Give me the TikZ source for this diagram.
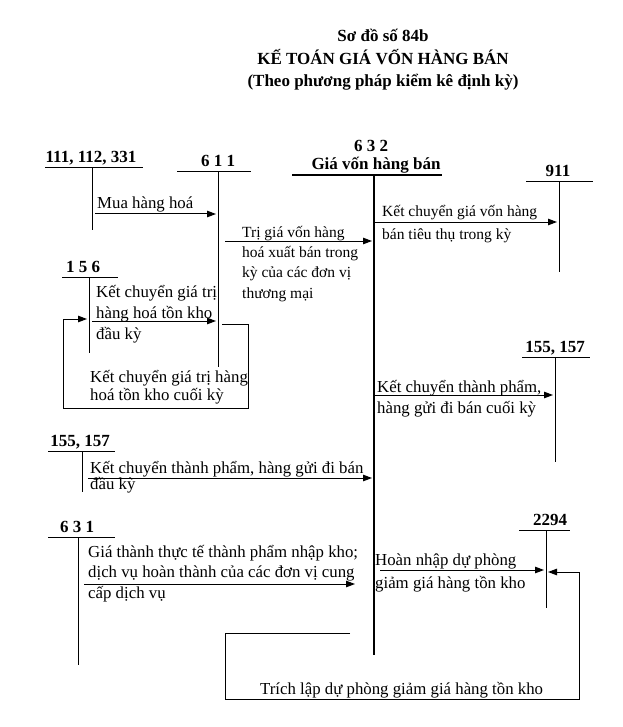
\documentclass[tikz,border=0pt]{standalone}
\usepackage{fontspec}
\setmainfont{Liberation Serif}
\usetikzlibrary{arrows.meta,positioning}

\begin{document}
\begin{tikzpicture}
[x=1pt,y=-1pt,
acc/.style={font=\bfseries\fontsize{17}{18}\selectfont, inner sep=0pt, anchor=base},
txt/.style={font=\fontsize{16.8}{21}\selectfont, inner sep=0pt, anchor=base west, align=left},
small/.style={txt, font=\fontsize{15.5}{20.3}\selectfont},
tline/.style={line width=1pt},
thick line/.style={line width=2.6pt},
arr/.style={-{Triangle[length=9pt,width=6.5pt]}, line width=1pt, shorten <=3pt, shorten >=2pt}]

\useasboundingbox (0,0) rectangle (622,727);

% title
\node [font=\bfseries\fontsize{17}{20}\selectfont, anchor=base] (title1) at (383,42) {Sơ đồ số 84b};
\node [font=\bfseries\fontsize{17}{20}\selectfont, anchor=base] (title2) at (383,65) {KẾ TOÁN GIÁ VỐN HÀNG BÁN};
\node [font=\bfseries\fontsize{17}{20}\selectfont, anchor=base] (title3) at (383,87) {(Theo phương pháp kiểm kê định kỳ)};

% accounts
\foreach \n/\lbl/\lx/\ly/\ta/\tb/\vx/\vb in {
	111/{111, 112, 331}/91/163/45/143/92/230,
	611/{6 1 1}/218/167/177/251/218/367,
	911/{911}/558/177/526/593/559/272,
	156/{1 5 6}/83/272/62/118/89/353,
	155r/{155, 157}/555/352/522/590/555/462,
	155l/{155, 157}/80/446/48/115/82/492,
	631/{6 3 1}/77/532/48/115/78/665,
	2294/{2294}/550/525/519/570/546/608}
{
	\node [acc] (l\n) at (\lx,\ly) {\lbl};
	\coordinate (k\n) at (\vx,\ly+5);
	\draw [tline] (\ta,\ly+5) -- (\tb,\ly+5);
	\draw [tline] (k\n) -- (\vx,\vb);
}

\node [acc] (l632) at (371,152) {6 3 2};
\node [acc] (n632) at (376,170) {Giá vốn hàng bán};
\coordinate (k632) at (374,175);
\draw [thick line] (292,175) -- (442,175);
\draw [thick line] (k632) -- (374,655);

% entries (multi-line texts sit on their last line)
\node [txt] (mua) at (97,208) {Mua hàng hoá};
\draw [arr] (k111 |- 0,214) -- (k611 |- 0,214);

\node [txt] (dauky) at (96,339) {Kết chuyển giá trị\\hàng hoá tồn kho\\đầu kỳ};
\draw [arr] (k156 |- 0,321) -- (k611 |- 0,321);

\node [txt, font=\fontsize{16.8}{18}\selectfont] (cuoiky) at (90,400) {Kết chuyển giá trị hàng\\hoá tồn kho cuối kỳ};
\draw [arr, shorten <=4pt] (k611 |- 0,324) -- (248,324) -- (248,408) -- (63,408) -- (63,319) -- (k156 |- 0,319);

\node [small] (trigia) at (242,298) {Trị giá vốn hàng\\hoá xuất bán trong\\kỳ của các đơn vị\\thương mại};
\draw [arr, shorten <=7pt] (k611 |- 0,241) -- (k632 |- 0,241);

\node [small, font=\fontsize{15.5}{23}\selectfont] (ketchuyen911) at (382,240) {Kết chuyển giá vốn hàng\\bán tiêu thụ trong kỳ};
\draw [arr, shorten <=1pt] (k632 |- 0,222) -- (k911 |- 0,222);

\node [txt] (cuoikyr) at (377,413) {Kết chuyển thành phẩm,\\hàng gửi đi bán cuối kỳ};
\draw [arr, shorten <=1pt] (k632 |- 0,395) -- (k155r |- 0,395);

\node [txt, font=\fontsize{16.8}{16}\selectfont] (daukyl) at (90,489) {Kết chuyển thành phẩm, hàng gửi đi bán\\đầu kỳ};
\draw [arr, shorten <=6pt] (k155l |- 0,478) -- (k632 |- 0,478);

\node [txt, font=\fontsize{16.8}{20.5}\selectfont] (giathanh) at (88,598) {Giá thành thực tế thành phẩm nhập kho;\\dịch vụ hoàn thành của các đơn vị cung\\cấp dịch vụ};
\draw [arr, shorten <=6pt, shorten >=19pt] (k631 |- 0,584) -- (k632 |- 0,584);

\node [txt, font=\fontsize{16.8}{23}\selectfont] (hoannhap) at (375,588) {Hoàn nhập dự phòng\\giảm giá hàng tồn kho};
\draw [arr, shorten <=6pt] (k632 |- 0,570) -- (k2294 |- 0,570);

\coordinate (trich) at (350,633);
\node [txt] (trichlap) at (260,694) {Trích lập dự phòng giảm giá hàng tồn kho};
\draw [arr, shorten <=0pt] (trich) -- (225,633) -- (225,699) -- (579,699) -- (579,572) -- (k2294 |- 0,572);

\end{tikzpicture}
\end{document}
